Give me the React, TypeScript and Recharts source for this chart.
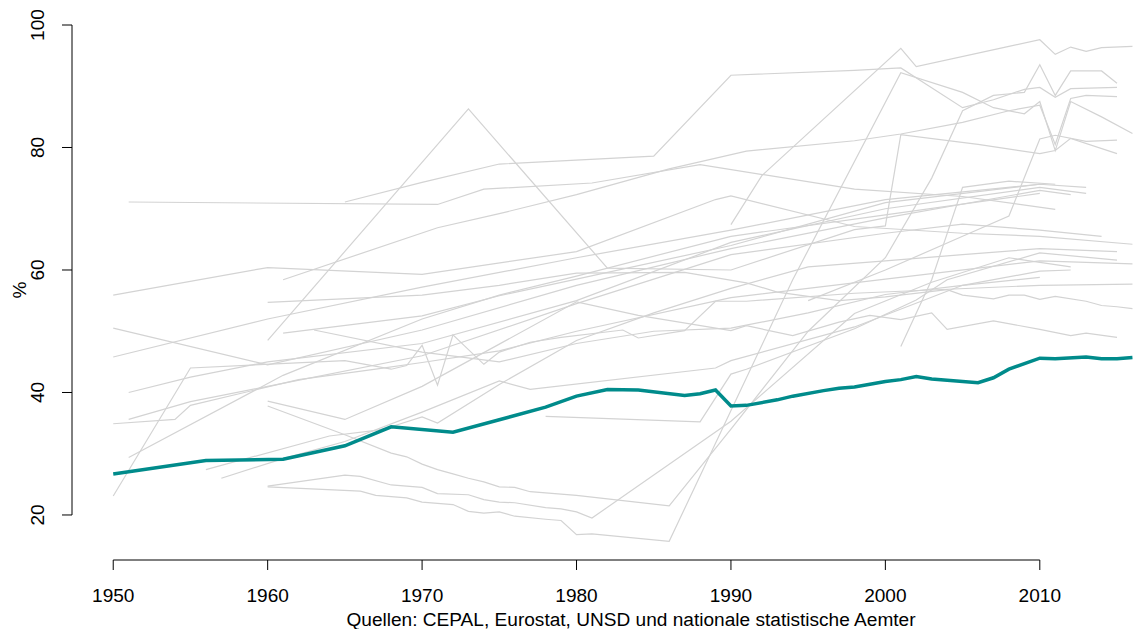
import React from 'react';
import { LineChart, Line, XAxis, YAxis, ReferenceLine } from 'recharts';

type Pt = [number, number];

// highlighted country
const teal: Pt[] = [
    [1950, 26.7], [1956, 28.9], [1961, 29.1], [1965, 31.3], [1968, 34.4], [1972, 33.5],
    [1978, 37.6], [1980, 39.4], [1982, 40.5], [1984, 40.4], [1987, 39.5], [1988, 39.8],
    [1989, 40.4], [1990, 37.8], [1991, 37.9], [1993, 38.8], [1994, 39.4], [1996, 40.3],
    [1997, 40.7], [1998, 40.9], [2000, 41.8], [2001, 42.1], [2002, 42.6], [2003, 42.2],
    [2006, 41.6], [2007, 42.4], [2008, 43.8], [2010, 45.6], [2011, 45.5], [2013, 45.8],
    [2014, 45.5], [2015, 45.5], [2016, 45.7],
];

// other countries (grey)
const g01: Pt[] = [[1990, 67.4], [1992, 75.4], [2001, 96.2], [2002, 93.2], [2008, 96.5], [2010, 97.6], [2011, 95.2], [2012, 96.4], [2013, 95.7], [2014, 96.3], [2016, 96.5]];
const g02: Pt[] = [[1965, 71.1], [1970, 74.3], [1975, 77.3], [1985, 78.6], [1990, 91.8], [1998, 92.6], [2001, 93.0], [2005, 86.5], [2007, 87.8], [2009, 89.5], [2010, 89.8], [2011, 88.2], [2012, 89.6], [2015, 89.8]];
const g03: Pt[] = [[1960, 24.6], [1966, 23.9], [1967, 23.2], [1969, 22.8], [1970, 22.1], [1972, 21.7], [1973, 20.6], [1974, 20.3], [1975, 20.5], [1976, 19.8], [1978, 19.3], [1979, 19.1], [1980, 16.8], [1981, 16.9], [1986, 15.7], [1994, 58.4], [2001, 92.2], [2005, 89.0], [2007, 86.5], [2009, 85.5], [2010, 87.5], [2011, 79.5], [2012, 87.5], [2014, 85.0], [2016, 82.3]];
const g04: Pt[] = [[1960, 48.5], [1973, 86.3], [1982, 60.3], [1990, 60.0], [1998, 66.6], [2000, 67.2], [2001, 82.1], [2006, 80.5], [2010, 79.0], [2011, 79.5], [2012, 81.5], [2015, 79.0]];
const g05: Pt[] = [[1950, 55.9], [1960, 60.4], [1970, 59.3], [1980, 63.0], [1989, 71.5], [1990, 72.1], [1998, 67.1], [2005, 66.0], [2010, 65.5], [2016, 64.2]];
const g06: Pt[] = [[1951, 71.1], [1971, 70.7], [1974, 73.2], [1981, 74.2], [1988, 77.2], [1998, 73.2], [2005, 72.0], [2011, 69.9]];
const g07: Pt[] = [[1961, 58.4], [1971, 66.9], [1975, 69.2], [1980, 72.3], [1986, 76.5], [1991, 79.4], [1998, 81.1], [2001, 82.2], [2005, 84.1], [2008, 86.0], [2010, 86.9], [2011, 80.5], [2012, 88.0], [2013, 88.5], [2015, 88.3]];
const g08: Pt[] = [[1950, 45.8], [1960, 52.0], [1970, 57.2], [1980, 62.0], [1990, 66.5], [2000, 71.5], [2010, 74.0], [2013, 73.5]];
const g09: Pt[] = [[1950, 50.5], [1960, 44.5], [1970, 50.2], [1980, 57.5], [1990, 63.5], [2000, 68.5], [2010, 73.0], [2012, 72.3]];
const g10: Pt[] = [[1950, 34.9], [1954, 35.6], [1955, 37.9], [1962, 42.1], [1967, 43.8], [1970, 44.9], [1975, 46.8], [1980, 50.0], [1990, 55.5], [2000, 58.5], [2010, 61.5], [2016, 61.0]];
const g11: Pt[] = [[1951, 35.6], [1955, 38.5], [1960, 41.0], [1970, 46.0], [1980, 54.5], [1990, 62.5], [2000, 66.0], [2005, 67.5], [2010, 66.5], [2014, 65.5]];
const g12: Pt[] = [[1951, 40.0], [1955, 42.5], [1960, 45.0], [1970, 48.0], [1980, 55.0], [1990, 64.5], [2000, 70.0], [2010, 73.5], [2013, 72.5]];
const g13: Pt[] = [[1950, 23.1], [1955, 44.0], [1965, 45.2], [1968, 43.8], [1969, 44.4], [1970, 47.7], [1971, 41.2], [1972, 49.4], [1974, 44.6], [1975, 46.6], [1977, 48.2], [1979, 49.0], [1983, 50.2], [1984, 48.9], [1987, 50.1], [1989, 54.9], [1991, 54.9], [1998, 56.2], [2010, 57.5], [2016, 57.7]];
const g14: Pt[] = [[1951, 29.4], [1961, 42.8], [1970, 52.0], [1975, 55.9], [1980, 59.0], [1990, 65.5], [2000, 69.0], [2010, 72.5]];
const g15: Pt[] = [[1960, 54.7], [1970, 55.9], [1975, 57.5], [1980, 59.5], [1987, 59.6], [1991, 57.9], [1993, 56.4], [1997, 55.0], [2000, 55.6], [2004, 56.8], [2005, 55.9], [2007, 55.3], [2008, 55.9], [2009, 55.9], [2010, 55.2], [2011, 55.7], [2013, 54.9], [2014, 54.2], [2015, 54.0], [2016, 53.7]];
const g16: Pt[] = [[1961, 49.7], [1970, 52.5], [1975, 55.8], [1980, 58.5], [1990, 64.0], [2000, 71.0], [2010, 74.0]];
const g17: Pt[] = [[1963, 50.2], [1970, 46.6], [1975, 45.0], [1980, 48.0], [1985, 50.0], [1990, 50.5], [1995, 53.0], [2000, 56.0], [2005, 57.5], [2010, 58.8]];
const g18: Pt[] = [[1960, 38.6], [1965, 35.6], [1970, 41.0], [1975, 47.9], [1980, 54.8], [1984, 52.6], [1990, 50.1], [1991, 50.9], [1994, 49.3], [1997, 51.5], [1999, 52.6], [2001, 51.9], [2003, 53.0], [2004, 50.3], [2007, 51.7], [2010, 50.3], [2012, 49.3], [2013, 49.7], [2015, 49.0]];
const g19: Pt[] = [[1978, 36.1], [1988, 35.2], [1990, 43.0], [1991, 43.8], [1998, 50.4], [2002, 55.1], [2004, 58.4], [2010, 62.8], [2015, 61.6]];
const g20: Pt[] = [[1956, 27.4], [1964, 32.9], [1967, 33.8], [1968, 34.4], [1970, 36.0], [1971, 35.0], [1975, 41.3], [1980, 48.5], [1985, 53.0], [1990, 57.0], [1995, 60.5], [2000, 61.5], [2005, 62.5], [2010, 63.5], [2015, 63.0]];
const g21: Pt[] = [[1957, 26.0], [1961, 29.2], [1965, 32.0], [1970, 36.8], [1975, 41.9], [1977, 40.5], [1989, 44.0], [1990, 45.2], [1998, 50.7], [2005, 57.5], [2010, 59.8], [2012, 60.0]];
const g22: Pt[] = [[1960, 37.8], [1965, 33.1], [1968, 30.1], [1969, 29.5], [1970, 28.3], [1971, 27.4], [1972, 26.7], [1973, 26.0], [1974, 25.4], [1975, 24.6], [1976, 24.5], [1977, 23.8], [1980, 23.2], [1986, 21.5], [1990, 34.0], [1995, 50.0], [2000, 62.0], [2003, 75.0], [2005, 86.0], [2007, 88.5], [2009, 89.0], [2010, 93.5], [2011, 88.5], [2012, 92.5], [2014, 92.5], [2015, 90.5]];
const g23: Pt[] = [[1960, 24.7], [1965, 26.5], [1966, 26.3], [1968, 24.9], [1970, 24.5], [1971, 23.5], [1973, 23.3], [1974, 22.5], [1975, 22.1], [1976, 22.0], [1978, 21.2], [1979, 21.0], [1980, 20.5], [1981, 19.5], [1990, 35.3], [1998, 52.9], [2003, 58.0], [2008, 62.0], [2012, 60.5]];
const g24: Pt[] = [[1995, 55.0], [2000, 60.0], [2005, 65.5], [2008, 68.8], [2010, 81.4], [2011, 82.0], [2013, 81.0], [2015, 81.2]];
const g25: Pt[] = [[2001, 47.5], [2003, 58.4], [2005, 73.5], [2008, 74.5], [2011, 74.0]];

const greySeries = [g01, g02, g03, g04, g05, g06, g07, g08, g09, g10, g11, g12, g13, g14, g15, g16, g17, g18, g19, g20, g21, g22, g23, g24, g25];

const xTicks = [1950, 1960, 1970, 1980, 1990, 2000, 2010];
const yTicks = [20, 40, 60, 80, 100];
const caption = 'Quellen: CEPAL, Eurostat, UNSD und nationale statistische Aemter';

const X_DOMAIN: [number, number] = [1947.33, 2016.1];
const Y_DOMAIN: [number, number] = [12.65, 100.49];
const FONT = '"Liberation Sans", Arial, sans-serif';
const WIDE = 1.06; // the reference text runs a little wider than plain Arial

const toRows = (pts: Pt[]) => pts.map(([year, value]) => ({ year, value }));

const XTick = (props: any) => {
    const { x, y, payload } = props;
    return (
        <g>
            <line x1={x} x2={x} y1={y} y2={y + 10} stroke="#000" />
            <text
                transform={`translate(${x},${y + 42}) scale(${WIDE},1)`}
                textAnchor="middle"
                fontSize={18}
                fontFamily={FONT}
                fill="#000"
            >
                {payload.value}
            </text>
        </g>
    );
};

const YTick = (props: any) => {
    const { x, y, payload } = props;
    return (
        <g>
            <line x1={x - 10} x2={x} y1={y} y2={y} stroke="#000" />
            <text
                transform={`translate(${x - 28.5},${y}) rotate(-90) scale(${WIDE},1)`}
                textAnchor="middle"
                fontSize={18}
                fontFamily={FONT}
                fill="#000"
            >
                {payload.value}
            </text>
        </g>
    );
};

export default function App() {
    return (
        <div style={{ position: 'absolute', left: 0, top: 0, width: 1134, height: 629, background: '#fff', fontFamily: FONT }}>
            <LineChart width={1134} height={629} margin={{ top: 22, right: 0, bottom: 0, left: 0 }}>
                <XAxis
                    type="number"
                    dataKey="year"
                    domain={X_DOMAIN}
                    allowDataOverflow
                    ticks={xTicks}
                    interval={0}
                    height={69}
                    axisLine={false}
                    tickLine={false}
                    tickSize={0}
                    tickMargin={0}
                    tick={(p: any) => <XTick {...p} />}
                />
                <YAxis
                    type="number"
                    domain={Y_DOMAIN}
                    allowDataOverflow
                    ticks={yTicks}
                    interval={0}
                    width={72}
                    axisLine={false}
                    tickLine={false}
                    tickSize={0}
                    tickMargin={0}
                    tick={(p: any) => <YTick {...p} />}
                />
                {/* R style axis lines, only between first and last tick */}
                <ReferenceLine
                    segment={[{ x: 1950, y: Y_DOMAIN[0] }, { x: 2010, y: Y_DOMAIN[0] }]}
                    stroke="#000"
                    ifOverflow="visible"
                />
                <ReferenceLine
                    segment={[{ x: X_DOMAIN[0], y: 20 }, { x: X_DOMAIN[0], y: 100 }]}
                    stroke="#000"
                    ifOverflow="visible"
                />
                {greySeries.map((s, i) => (
                    <Line
                        key={`grey-${i}`}
                        data={toRows(s)}
                        dataKey="value"
                        type="linear"
                        stroke="#d3d3d3"
                        strokeWidth={1.2}
                        dot={false}
                        activeDot={false}
                        isAnimationActive={false}
                    />
                ))}
                <Line
                    data={toRows(teal)}
                    dataKey="value"
                    type="linear"
                    stroke="#008b8b"
                    strokeWidth={3.5}
                    dot={false}
                    activeDot={false}
                    isAnimationActive={false}
                />
            </LineChart>
            <div
                style={{
                    position: 'absolute',
                    left: 20,
                    top: 290,
                    fontSize: 18,
                    lineHeight: '18px',
                    transform: `translate(-50%, -50%) rotate(-90deg) scaleX(${WIDE})`,
                }}
            >
                %
            </div>
            <div
                style={{
                    position: 'absolute',
                    left: 631,
                    top: 611,
                    fontSize: 18,
                    lineHeight: '18px',
                    whiteSpace: 'nowrap',
                    transform: `translateX(-50%) scaleX(${WIDE})`,
                }}
            >
                {caption}
            </div>
        </div>
    );
}
